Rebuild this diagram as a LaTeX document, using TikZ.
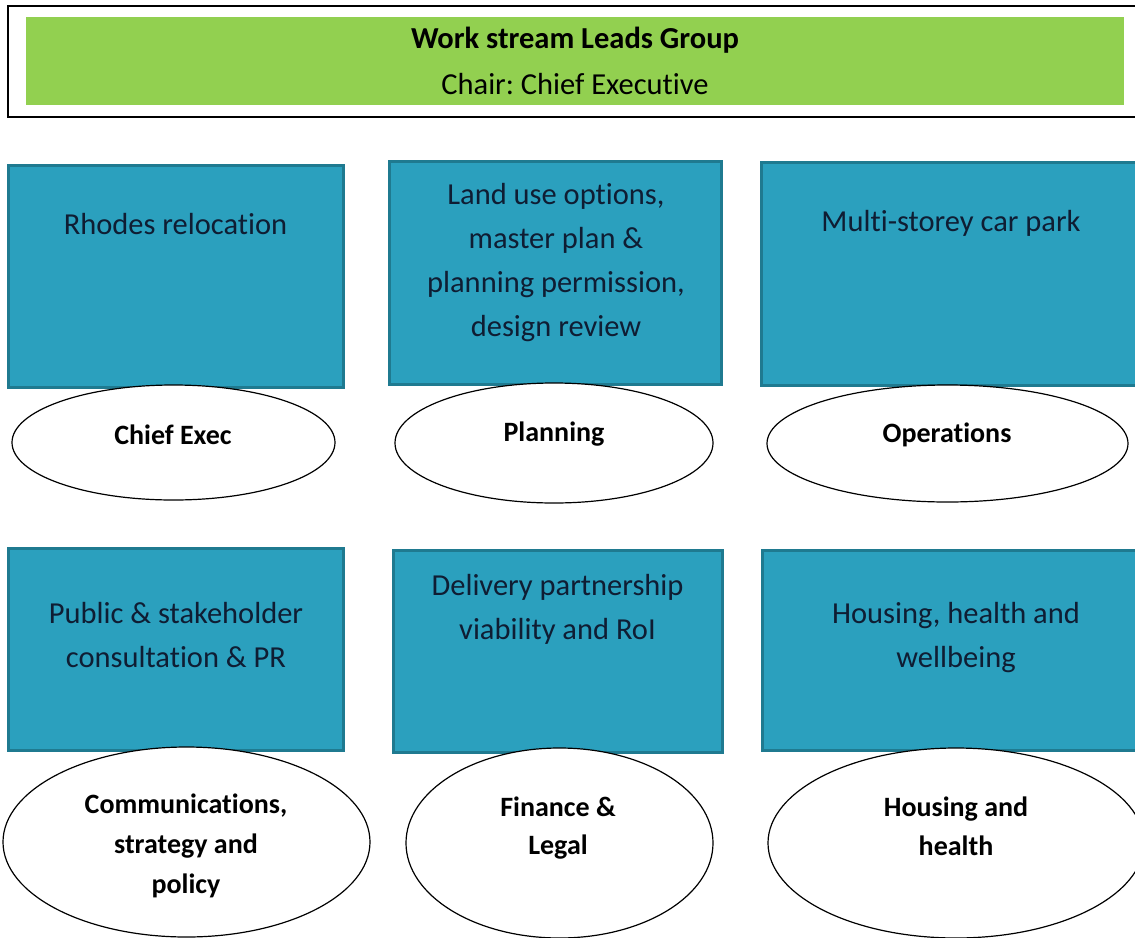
\documentclass[tikz,border=0pt]{standalone}
\usepackage{fontspec}
\setmainfont{Carlito}[Ligatures={NoCommon}]
\frenchspacing
\usetikzlibrary{shapes.geometric}
\definecolor{wsgreen}{HTML}{92D050}
\definecolor{wsteal}{HTML}{2BA0BE}
\definecolor{wsedge}{HTML}{1F7A90}
\definecolor{wsnavy}{HTML}{0F1D33}
\tikzset{
  wsbox/.style={draw=wsedge, fill=wsteal, line width=3pt, rectangle, inner sep=0pt},
  wsell/.style={draw=black, fill=white, line width=1.2pt, ellipse, inner sep=0pt},
  boxtext/.style={text=wsnavy, align=center, inner sep=0pt, font=\fontsize{30.5}{44}\selectfont},
  elltext/.style={text=black, align=center, inner sep=0pt, font=\fontsize{28}{40}\selectfont\bfseries},
  titletext/.style={text=black, align=center, inner sep=0pt, font=\fontsize{30.5}{44}\selectfont},
}
\begin{document}
\begin{tikzpicture}[x=1pt, y=-1pt]
\useasboundingbox (0,0) rectangle (1135,937);
\clip (0,0) rectangle (1135,937);
% header
\node[draw=black, line width=2.5pt, minimum width=1132pt, minimum height=111pt, inner sep=0pt] (outer) at (574,61.5) {};
\node[fill=wsgreen, minimum width=1098pt, minimum height=88pt, inner sep=0pt] (green) at (575,61) {};
\node[titletext] (t1) at (575,40) {\bfseries Work stream Leads Group};
\node[titletext] (t2) at (575,84) {Chair: Chief Executive};
% row 1 boxes
\node[wsbox, minimum width=335pt, minimum height=222pt] (b1) at (175.5,276) {};
\node[wsbox, minimum width=332pt, minimum height=223pt] (b2) at (555,272.5) {};
\node[wsbox, minimum width=380pt, minimum height=223pt] (b3) at (951,273.5) {};
\node[boxtext] (b1t) at (175.5,224) {Rhodes relocation};
\node[boxtext] (b2t) at (556,263) {Land use options,\\ master plan \&\\ planning permission,\\ design review};
\node[boxtext] (b3t) at (951,223) {Multi-storey car park};
% row 1 ellipses
\node[wsell, minimum width=323pt, minimum height=115pt] (e1) at (173.5,442.5) {};
\node[wsell, minimum width=318pt, minimum height=120pt] (e2) at (554,443) {};
\node[wsell, minimum width=361pt, minimum height=117pt] (e3) at (947.5,443.5) {};
\node[elltext] (e1t) at (173,435) {Chief Exec};
\node[elltext] (e2t) at (554,434) {Planning};
\node[elltext] (e3t) at (947,435) {Operations};
% row 2 boxes
\node[wsbox, minimum width=335pt, minimum height=202pt] (b4) at (175.5,649) {};
\node[wsbox, minimum width=329pt, minimum height=202pt] (b5) at (557.5,651) {};
\node[wsbox, minimum width=388pt, minimum height=200pt] (b6) at (956,650) {};
\node[boxtext] (b4t) at (176,635) {Public \& stakeholder\\ consultation \& PR};
\node[boxtext] (b5t) at (557.5,609) {Delivery partnership\\ viability and RoI};
\node[boxtext] (b6t) at (956,638) {Housing, health and\\ wellbeing};
% row 2 ellipses
\node[wsell, minimum width=367pt, minimum height=190pt] (e4) at (186.5,842) {};
\node[wsell, minimum width=307pt, minimum height=190pt] (e5) at (559.5,843) {};
\node[wsell, minimum width=376pt, minimum height=190pt] (e6) at (956,843) {};
\node[elltext] (e4t) at (186,846) {Communications,\\ strategy and\\ policy};
\node[elltext, font=\fontsize{28}{38}\selectfont\bfseries] (e5t) at (558,828) {Finance \&\\ Legal};
\node[elltext, font=\fontsize{28}{39}\selectfont\bfseries] (e6t) at (956,826) {Housing and\\ health};
\end{tikzpicture}
\end{document}
